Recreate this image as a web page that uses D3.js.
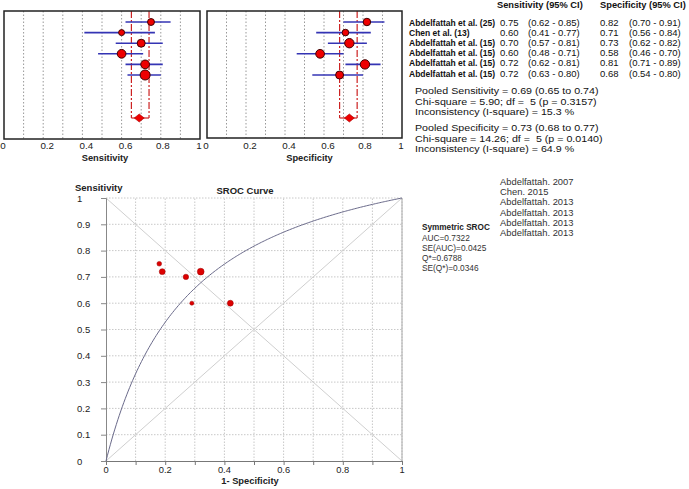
<!DOCTYPE html>
<html><head><meta charset="utf-8">
<script src="https://cdn.jsdelivr.net/npm/d3@7"></script>
<style>
body{margin:0;background:#fff;}
svg{display:block;font-family:"Liberation Sans",Arial,sans-serif;}
text{white-space:pre;}
</style></head><body>
<svg id="c" width="689" height="489"></svg>
<script>
// ---------- data ----------
const studies = ["Abdelfattah et al. (25)","Chen et al. (13)","Abdelfattah et al. (15)","Abdelfattah et al. (15)","Abdelfattah et al. (15)","Abdelfattah et al. (15)"];
const srocLabels = ["Abdelfattah. 2007","Chen. 2015","Abdelfattah. 2013","Abdelfattah. 2013","Abdelfattah. 2013","Abdelfattah. 2013"];
const sens   = [0.75,0.60,0.70,0.60,0.72,0.72];
const sensLo = [0.62,0.41,0.57,0.48,0.62,0.63];
const sensHi = [0.85,0.77,0.81,0.71,0.81,0.80];
const spec   = [0.82,0.71,0.73,0.58,0.81,0.68];
const specLo = [0.70,0.56,0.62,0.46,0.71,0.54];
const specHi = [0.91,0.84,0.82,0.70,0.89,0.80];
const sensWeight = [12,9,16,19,19,25];
const specWeight = [14,11,22,19,22,16];
const srocWeight = [12,9,16,19,19,25];
const pooledSens = [0.69,0.65,0.74];
const pooledSpec = [0.73,0.68,0.77];
const xTicks = [0,0.2,0.4,0.6,0.8,1];
const yTicksSroc = [0,0.1,0.2,0.3,0.4,0.5,0.6,0.7,0.8,0.9,1];
const sensStats = ["Pooled Sensitivity = 0.69 (0.65 to 0.74)","Chi-square = 5.90; df =  5 (p = 0.3157)","Inconsistency (I-square) = 15.3 %"];
const specStats = ["Pooled Specificity = 0.73 (0.68 to 0.77)","Chi-square = 14.26; df =  5 (p = 0.0140)","Inconsistency (I-square) = 64.9 %"];
const srocStats = ["AUC=0.7322","SE(AUC)=0.0425","Q*=0.6788","SE(Q*)=0.0346"];
const qStar = 0.6788;

const fmt2 = d3.format(".2f");
const svg = d3.select("#c");

// ---------- forest plots ----------
const rowScale = d3.scalePoint().domain(d3.range(studies.length)).range([22,75]);
const rScale = d3.scaleSqrt().domain([0,25]).range([0,5]);

function forest(x0,x1,top,bottom,vals,lo,hi,w,pooled,title,titleDx){
  const x = d3.scaleLinear().domain([0,1]).range([x0,x1]);
  const g = svg.append("g");
  g.selectAll("line.grid").data(d3.range(1,10).map(d=>d/10)).join("line")
    .attr("x1",d=>x(d)).attr("x2",d=>x(d)).attr("y1",top).attr("y2",bottom)
    .attr("stroke","#999").attr("stroke-width",1).attr("stroke-dasharray","1.5,2");
  const dy = 118;
  [pooled[1],pooled[2]].forEach(v=>{
    g.append("line").attr("x1",x(v)).attr("x2",x(v)).attr("y1",top).attr("y2",dy)
      .attr("stroke","#cc2222").attr("stroke-width",1.2).attr("stroke-dasharray","7,2,2,2");
  });
  g.append("line").attr("x1",x(pooled[1])).attr("x2",x(pooled[2])).attr("y1",dy).attr("y2",dy)
    .attr("stroke","#cc2222").attr("stroke-width",1.2);
  const px = x(pooled[0]);
  g.append("path").attr("d",`M${px-5},${dy}L${px},${dy-4}L${px+5},${dy}L${px},${dy+4}Z`)
    .attr("fill","#ee0000").attr("stroke","#aa0000").attr("stroke-width",0.6);
  g.selectAll("line.ci").data(vals).join("line")
    .attr("x1",(d,i)=>x(lo[i])).attr("x2",(d,i)=>x(hi[i]))
    .attr("y1",(d,i)=>rowScale(i)).attr("y2",(d,i)=>rowScale(i))
    .attr("stroke","#3434b4").attr("stroke-width",1.6);
  g.selectAll("circle").data(vals).join("circle")
    .attr("cx",d=>x(d)).attr("cy",(d,i)=>rowScale(i)).attr("r",(d,i)=>rScale(w[i]))
    .attr("fill","#ee0000").attr("stroke","#400000").attr("stroke-width",1);
  g.append("rect").attr("x",x0).attr("y",top).attr("width",x1-x0).attr("height",bottom-top)
    .attr("fill","none").attr("stroke","#222").attr("stroke-width",1.5);
  g.selectAll("text.tk").data(xTicks).join("text")
    .attr("x",d=>x(d)).attr("dx",d=>d===0?-1:d===1?-1:d===0.8?2:4)
    .attr("y",149).attr("text-anchor","middle")
    .attr("font-size",9.8).attr("fill","#222").text(d=>String(d));
  g.append("text").attr("x",(x0+x1)/2+titleDx).attr("y",161).attr("text-anchor","middle")
    .attr("font-size",9.3).attr("font-weight","bold").attr("fill","#222").text(title);
}
forest(4,200,11,139,sens,sensLo,sensHi,sensWeight,pooledSens,"Sensitivity",3);
forest(207,402,11,138,spec,specLo,specHi,specWeight,pooledSpec,"Specificity",5);

// ---------- table text ----------
const tg = svg.append("g").attr("fill","#111");
tg.append("text").attr("x",497).attr("y",8).attr("font-size",9.3).attr("font-weight","bold").text("Sensitivity (95% CI)");
tg.append("text").attr("x",600).attr("y",8).attr("font-size",9.3).attr("font-weight","bold").text("Specificity (95% CI)");
const rowText = d3.scalePoint().domain(d3.range(studies.length)).range([25.5,76.5]);
studies.forEach((s,i)=>{
  const y = rowText(i);
  tg.append("text").attr("x",409).attr("y",y).attr("font-size",8.5).attr("font-weight","bold").text(s);
  tg.append("text").attr("x",500).attr("y",y).attr("font-size",9.5).text(fmt2(sens[i]));
  tg.append("text").attr("x",528).attr("y",y).attr("font-size",9.5).text(`(${fmt2(sensLo[i])} - ${fmt2(sensHi[i])})`);
  tg.append("text").attr("x",600).attr("y",y).attr("font-size",9.5).text(fmt2(spec[i]));
  tg.append("text").attr("x",629).attr("y",y).attr("font-size",9.5).text(`(${fmt2(specLo[i])} - ${fmt2(specHi[i])})`);
});
const stg = tg.append("g").attr("transform","translate(415,0) scale(1.16,1)");
sensStats.forEach((s,i)=>stg.append("text").attr("x",0).attr("y",94.5+i*10.4).attr("font-size",9.2).text(s));
specStats.forEach((s,i)=>stg.append("text").attr("x",0).attr("y",131.5+i*10.3).attr("font-size",9.2).text(s));

// ---------- SROC ----------
const sx = d3.scaleLinear().domain([0,1]).range([106,402]);
const sy = d3.scaleLinear().domain([0,1]).range([461,198]);
const sg = svg.append("g");
sg.selectAll("line.gx").data(yTicksSroc.slice(1)).join("line")
  .attr("x1",d=>sx(d)).attr("x2",d=>sx(d)).attr("y1",sy(0)).attr("y2",sy(1))
  .attr("stroke","#c8c8c8").attr("stroke-dasharray","1.5,1.5");
sg.selectAll("line.gy").data(yTicksSroc.slice(1)).join("line")
  .attr("x1",sx(0)).attr("x2",sx(1)).attr("y1",d=>sy(d)).attr("y2",d=>sy(d))
  .attr("stroke","#c8c8c8").attr("stroke-dasharray","1.5,1.5");
sg.append("line").attr("x1",sx(0)).attr("y1",sy(0)).attr("x2",sx(1)).attr("y2",sy(1)).attr("stroke","#cfcfcf");
sg.append("line").attr("x1",sx(0)).attr("y1",sy(1)).attr("x2",sx(1)).attr("y2",sy(0)).attr("stroke","#cfcfcf");
sg.append("line").attr("x1",sx(1)).attr("y1",sy(0)).attr("x2",sx(1)).attr("y2",sy(1)).attr("stroke","#aaa");
sg.append("g").attr("transform",`translate(${sx(0)},0)`)
  .call(d3.axisLeft(sy).tickValues(yTicksSroc).tickSize(5).tickFormat(""))
  .call(a=>{a.selectAll("path,line").attr("stroke","#888");});
sg.append("g").attr("transform",`translate(0,${sy(0)})`)
  .call(d3.axisBottom(sx).tickValues(yTicksSroc).tickSize(4).tickFormat(""))
  .call(a=>{a.selectAll("path,line").attr("stroke","#777");});
// symmetric SROC curve from Q*
const D = 2*Math.log(qStar/(1-qStar));
const curvePts = d3.range(0,1.0001,0.005).map(f=>{
  if(f<=0) return [0,0];
  if(f>=1) return [1,1];
  const l = Math.log(f/(1-f))+D;
  return [f,1/(1+Math.exp(-l))];
});
sg.append("path").datum(curvePts)
  .attr("d",d3.line().x(d=>sx(d[0])).y(d=>sy(d[1])))
  .attr("fill","none").attr("stroke","#6a6a8a").attr("stroke-width",1);
const rS = d3.scaleSqrt().domain([0,25]).range([0,3.4]);
sg.selectAll("circle").data(sens).join("circle")
  .attr("cx",(d,i)=>sx(1-spec[i])).attr("cy",d=>sy(d)).attr("r",(d,i)=>rS(srocWeight[i]))
  .attr("fill","#dd0000").attr("stroke","#990000").attr("stroke-width",0.5);
sg.selectAll("text.yt").data(yTicksSroc).join("text")
  .attr("x",77).attr("y",d=>sy(d)+3.5).attr("font-size",9.5).attr("fill","#222").text(d=>String(d));
sg.selectAll("text.xt").data(xTicks).join("text")
  .attr("x",d=>sx(d)).attr("y",473).attr("text-anchor","middle").attr("font-size",9.3).attr("fill","#222").text(d=>String(d));
sg.append("text").attr("x",250).attr("y",484).attr("text-anchor","middle").attr("font-size",9.3).attr("font-weight","bold").attr("fill","#222").text("1- Specificity");
sg.append("text").attr("x",75).attr("y",191).attr("font-size",9.5).attr("font-weight","bold").attr("fill","#222").text("Sensitivity");
sg.append("text").attr("x",245).attr("y",194).attr("text-anchor","middle").attr("font-size",9.5).attr("font-weight","bold").attr("fill","#222").text("SROC Curve");
srocLabels.forEach((s,i)=>sg.append("text").attr("x",500).attr("y",185+i*10.2).attr("font-size",9.4).attr("fill","#333").text(s));
sg.append("text").attr("x",422).attr("y",230).attr("font-size",8.2).attr("font-weight","bold").attr("fill","#222").text("Symmetric SROC");
srocStats.forEach((s,i)=>sg.append("text").attr("x",422).attr("y",240.5+i*10.2).attr("font-size",8.3).attr("fill","#333").text(s));
</script></body></html>
